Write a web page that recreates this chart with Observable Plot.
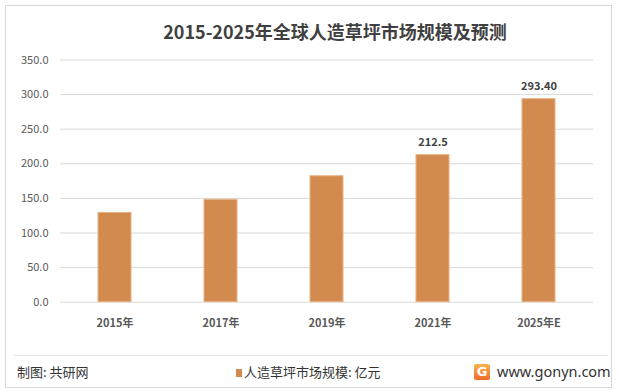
<!DOCTYPE html>
<html><head><meta charset="utf-8">
<script src="https://cdn.jsdelivr.net/npm/d3@7"></script>
<script src="https://cdn.jsdelivr.net/npm/@observablehq/plot@0.6"></script>
<style>
body{margin:0;background:#fff;font-family:"Noto Sans CJK SC","Noto Sans",sans-serif;}
#wrap{position:relative;width:619px;height:392px;overflow:hidden;background:#fff;}
#frame{position:absolute;left:5px;top:5px;width:605px;height:381px;border:1px solid #d9d9d9;}
#title{position:absolute;left:0;top:19px;width:670px;text-align:center;font-size:18px;font-weight:bold;color:#404040;line-height:24px;white-space:nowrap;}
#chart{position:absolute;left:0;top:40px;}
#rule{position:absolute;left:14px;top:355px;width:594px;height:1px;background:#e3e3e3;}
.foot{position:absolute;top:362px;line-height:20px;font-size:13px;color:#333;white-space:nowrap;}
#src{left:17px;}
#leg{left:236px;}
#leg i{display:inline-block;width:6px;height:8px;background:#d38a4e;margin-right:2px;vertical-align:-0px;}
#logo{position:absolute;left:474px;top:364px;width:16px;height:16px;border-radius:2px;background:linear-gradient(#f9b54c,#ef6a2b);color:#fff;font:bold 13px/16px "DejaVu Sans",sans-serif;text-align:center;}
#site{left:497px;font-size:14.5px;font-family:"Noto Sans",sans-serif;top:361px;}
</style></head>
<body>
<div id="wrap">
  <div id="frame"></div>
  <div id="title">2015-2025年全球人造草坪市场规模及预测</div>
  <div id="chart"></div>
  <div id="rule"></div>
  <div class="foot" id="src">制图: 共研网</div>
  <div class="foot" id="leg"><i></i>人造草坪市场规模: 亿元</div>
  <div id="logo">G</div>
  <div class="foot" id="site">www.gonyn.com</div>
</div>
<script>
const years = ["2015年", "2017年", "2019年", "2021年", "2025年E"];
const values = [129, 148, 182, 212.5, 293.4];
const valueLabels = ["", "", "", "212.5", "293.40"];
const yTicks = [0, 50, 100, 150, 200, 250, 300, 350];

const data = years.map((y, i) => ({year: y, value: values[i], label: valueLabels[i]}));

const chart = Plot.plot({
  width: 619,
  height: 300,
  marginLeft: 60,
  marginRight: 26,
  marginTop: 19.5,
  marginBottom: 38.3,
  style: {fontFamily: '"Noto Sans CJK SC","Noto Sans",sans-serif', background: "transparent"},
  x: {type: "band", domain: years, paddingInner: 0.69, paddingOuter: 0.345},
  y: {domain: [0, 350]},
  marks: [
    Plot.gridY(yTicks, {stroke: "#d9d9d9", strokeOpacity: 1}),
    Plot.barY(data, {x: "year", y: "value", fill: "#d38a4e", stroke: "#e6b286", strokeWidth: 1}),
    Plot.text(data.filter(d => d.label), {x: "year", y: "value", text: "label", dy: -13, fontSize: 11, fontWeight: "bold", fill: "#404040"}),
    Plot.axisY({ticks: yTicks, tickFormat: d3.format(".1f"), tickSize: 0, tickPadding: 12, fontSize: 11, fill: "#595959", label: null}),
    Plot.axisX({tickSize: 0, tickPadding: 17, fontSize: 11, fontWeight: "bold", fill: "#595959", label: null})
  ]
});
document.getElementById("chart").appendChild(chart);
</script>
</body></html>
